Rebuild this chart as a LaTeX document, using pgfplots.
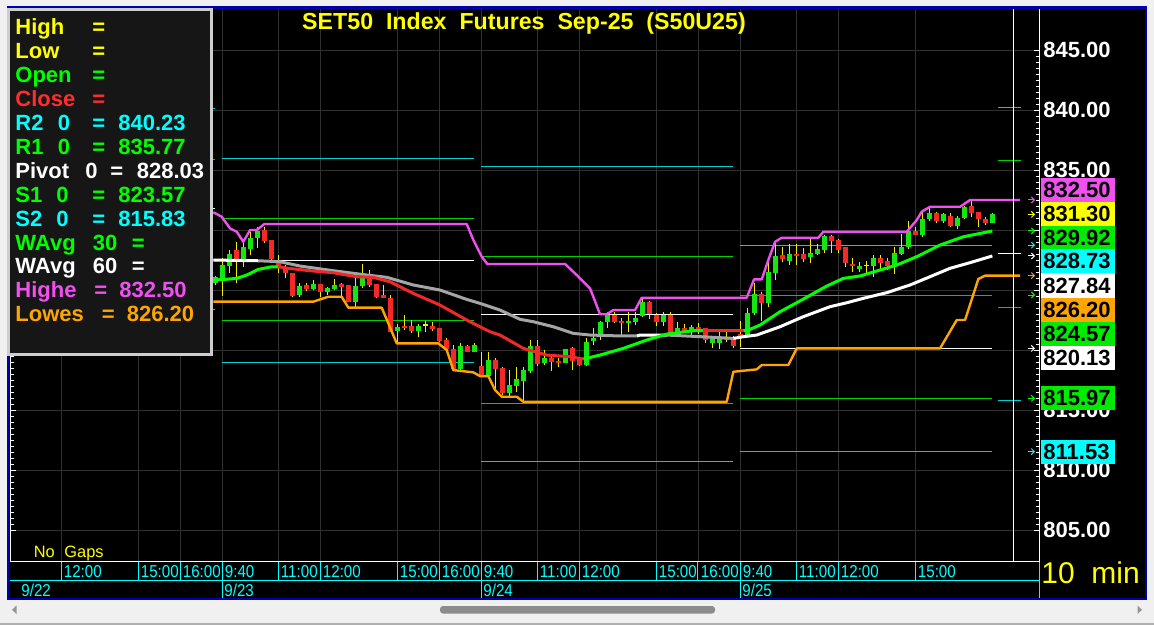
\documentclass[border=0pt]{standalone}
\usepackage{fontspec}
\setmainfont{Liberation Sans}
\newfontfamily\narrow[FakeStretch=0.88]{Liberation Sans}
\usepackage{pgfplots}
\pgfplotsset{compat=1.18}
\usepackage{pgfplotstable}
\usetikzlibrary{arrows.meta}

\definecolor{wgrey}{RGB}{240,240,240}
\definecolor{wblue}{RGB}{0,0,170}
\definecolor{gridc}{RGB}{48,48,48}
\definecolor{tcyan}{RGB}{0,255,255}
\definecolor{pcyan}{RGB}{0,205,205}
\definecolor{pgreen}{RGB}{0,210,0}
\definecolor{cgreen}{RGB}{20,230,20}
\definecolor{cred}{RGB}{245,40,40}
\definecolor{wick}{RGB}{240,240,0}
\definecolor{lgreen}{RGB}{0,255,0}
\definecolor{bgreen}{RGB}{0,235,0}
\definecolor{lred}{RGB}{240,40,40}
\definecolor{lgrey}{RGB}{165,165,165}
\definecolor{hmag}{RGB}{240,80,240}
\definecolor{lorange}{RGB}{255,165,0}
\definecolor{tyellow}{RGB}{255,255,0}
\definecolor{tred}{RGB}{255,45,45}
\definecolor{legbg}{RGB}{22,22,22}
\definecolor{legframe}{RGB}{205,205,205}
\definecolor{thumb}{RGB}{140,140,140}
\definecolor{sarrow}{RGB}{150,150,150}
\definecolor{sbottom}{RGB}{175,175,175}

% 10-minute bars, i = bar number (0 = 9:40 on 9/23)
\pgfplotstableread{
i o h l c
-1 825.56 826.20 825.40 826.06
0 825.89 827.64 824.50 827.08
1 827.03 828.33 826.39 828.00
3 827.50 829.03 826.94 828.58
4 828.42 829.86 827.92 829.31
5 829.31 830.28 828.47 829.92
11 824.58 825.56 824.39 825.33
13 825.08 825.83 825.00 825.50
15 824.86 825.28 824.58 825.17
16 825.08 825.92 825.00 825.42
19 824.03 826.19 823.61 825.33
20 825.33 827.17 825.14 826.11
25 821.58 822.20 820.56 821.94
28 821.60 822.17 821.10 822.03
34 818.42 820.56 818.33 820.36
36 819.86 820.56 819.80 820.42
38 817.86 819.86 817.78 819.17
41 816.39 818.33 816.11 817.08
42 817.00 818.60 816.53 817.58
43 817.44 818.56 815.70 818.33
44 818.28 820.83 818.11 820.33
46 818.94 820.00 818.75 819.33
49 818.94 820.08 818.89 820.08
52 818.75 820.97 818.67 820.69
53 820.75 821.80 820.42 821.03
54 821.06 822.44 820.83 822.36
55 822.36 823.20 821.80 822.92
58 822.28 823.20 821.53 822.44
59 822.33 823.20 822.08 822.67
60 822.83 824.44 822.72 824.03
63 822.36 823.20 822.00 822.92
65 821.44 822.36 821.33 821.80
67 821.53 822.08 821.17 821.89
70 820.55 821.17 820.14 820.97
71 820.55 821.50 820.10 821.05
75 821.25 823.47 821.10 823.06
76 823.06 825.56 822.92 824.64
78 823.94 827.60 823.56 826.47
79 826.44 829.03 825.83 827.83
81 827.44 828.83 827.10 828.00
84 827.72 829.22 827.28 828.11
85 828.00 828.83 827.92 828.39
86 828.33 829.58 828.11 829.50
91 826.78 827.36 826.53 827.00
93 827.00 827.92 826.11 827.64
96 827.08 828.60 826.30 828.06
97 828.00 829.67 827.92 828.61
98 828.61 830.78 828.42 829.92
100 829.58 831.53 829.44 830.89
101 830.89 831.80 830.78 831.44
103 830.78 831.44 830.56 831.33
105 830.33 831.17 830.11 831.03
106 831.03 832.00 830.89 831.94
110 830.61 831.44 830.56 831.30
}\greenc

\pgfplotstableread{
i o h l c
2 828.33 828.99 825.56 827.50
6 830.00 830.28 828.89 829.08
7 829.17 829.17 827.22 827.58
8 827.22 827.92 826.39 826.89
9 826.89 827.08 825.97 826.39
10 826.39 826.39 824.39 824.50
12 825.42 825.56 824.94 825.08
14 825.50 825.50 824.44 824.86
17 825.50 825.56 824.44 825.28
18 825.42 825.42 824.03 824.03
21 826.11 826.67 825.22 825.42
22 825.50 825.50 824.30 824.44
23 824.58 825.42 824.30 824.36
24 824.30 824.58 821.53 821.53
26 822.03 822.92 821.67 821.86
27 822.03 822.50 821.40 821.60
30 822.03 822.36 821.60 821.75
31 821.86 821.86 820.69 820.75
32 820.83 820.97 820.00 820.06
33 820.08 820.42 818.33 818.42
35 820.36 820.42 819.80 819.86
37 818.67 819.86 817.78 817.92
39 819.17 819.31 816.70 818.42
40 818.53 818.61 816.25 816.39
45 820.33 820.83 818.67 818.83
47 819.33 819.44 818.25 819.03
48 819.11 819.30 818.60 818.94
50 820.14 820.22 818.33 819.11
51 819.22 819.28 818.67 818.75
56 822.92 823.20 822.22 822.36
57 822.44 822.64 821.25 822.28
61 824.03 824.10 822.56 823.00
62 822.92 823.06 822.00 822.36
64 822.92 823.20 821.39 821.44
66 821.80 822.14 821.53 821.61
68 821.89 822.28 821.33 821.75
69 821.80 821.80 820.55 820.83
72 821.06 821.50 820.70 820.83
73 820.97 821.17 820.14 820.33
74 821.33 822.44 820.28 821.06
77 824.64 824.86 822.44 823.89
80 827.92 828.60 827.36 827.58
82 828.00 828.83 827.10 827.83
83 828.00 828.47 827.36 827.58
87 829.50 829.58 828.11 829.08
88 829.17 829.28 828.11 828.33
89 828.61 828.61 826.94 827.28
90 827.17 827.64 826.53 827.03
94 827.64 827.92 826.72 827.28
95 827.44 827.64 826.67 827.03
99 829.94 830.28 829.58 829.61
102 831.44 831.53 830.56 830.78
104 831.17 831.39 830.28 830.36
107 832.00 832.44 831.06 831.44
108 831.50 831.50 830.28 830.89
109 830.92 831.06 830.42 830.61
}\redc

\pgfplotstableread{
i o h l c
29 822.08 822.45 821.53 822.08
92 827.05 827.44 826.39 827.05
}\dojic

\newcommand{\legtxt}[4]{\node[anchor=base west, inner sep=0pt, text=#1, font=\bfseries\fontsize{11}{13}\selectfont] at (#2,#3) {#4};}

\begin{document}
\begin{tikzpicture}
\useasboundingbox (0,0) rectangle (577pt,-312.5pt);
\begin{scope}[x=0.5pt,y=-0.5pt]
\fill[wgrey] (0,0) rectangle (1154,625);
\fill[wblue] (6.5,6.5) rectangle (1147,600);
\fill[black] (9,9) rectangle (1144.5,598);
\end{scope}

\begin{axis}[
    at={(5pt,-280.5pt)}, anchor=south west,
    scale only axis, width=515pt, height=276pt,
    xmin=-30.33, xmax=116.81, ymin=802.42, ymax=848.42,
    axis line style={draw=none},
    xtick={-23,-12,-6,0,8,14,25,31,37,45,51,62,68,74,82,88,99},
    xticklabels={12:00,15:00,16:00,9:40,11:00,12:00,15:00,16:00,9:40,11:00,12:00,15:00,16:00,9:40,11:00,12:00,15:00},
    x tick style={draw=none},
    xticklabel style={anchor=west, inner sep=0pt, xshift=1.1pt, yshift=-5.5pt,
        text=tcyan, font=\narrow\fontsize{8.6}{10}\selectfont},
    ytick={805,810,...,845},
    yticklabels={805.00,810.00,815.00,,,,835.00,840.00,845.00},
    minor y tick num=9,
    ytick pos=both, yticklabel pos=right,
    tick align=inside,
    y tick style={white, line width=0.5pt},
    major tick length=3pt, minor tick length=1.8pt,
    yticklabel style={anchor=west, inner sep=0pt, xshift=1.5pt, text=white,
        font=\bfseries\fontsize{11}{13}\selectfont},
    xmajorgrids, ymajorgrids,
    major grid style={gridc, line width=0.5pt},
    unbounded coords=jump,
]
% daily pivot levels (R2/S2 cyan, R1/S1 green, pivot white)
\addplot[pcyan, line width=0.5pt] coordinates {
    (-31,840.17) (-1,840.17) (-1,nan) (-31,823.42) (-1,823.42) (-1,nan)
    (0,836.00) (36,836.00) (36,nan) (0,818.98) (36,818.98) (36,nan)
    (37,835.33) (73,835.33) (73,nan) (37,810.75) (73,810.75) (73,nan)
    (74,828.73) (110,828.73) (110,nan) (74,811.53) (110,811.53) (110,nan)
    (110.8,840.23) (114.1,840.23) (114.1,nan) (110.8,815.83) (114.1,815.83)};
\addplot[pgreen, line width=0.5pt] coordinates {
    (-31,835.92) (-1,835.92) (-1,nan) (-31,827.58) (-1,827.58) (-1,nan)
    (0,830.98) (36,830.98) (36,nan) (0,822.48) (36,822.48) (36,nan)
    (37,827.81) (73,827.81) (73,nan) (37,815.56) (73,815.56) (73,nan)
    (74,824.57) (110,824.57) (110,nan) (74,815.97) (110,815.97) (110,nan)
    (110.8,835.77) (114.1,835.77) (114.1,nan) (110.8,823.57) (114.1,823.57)};
\addplot[white, line width=0.5pt] coordinates {
    (-31,831.83) (-1,831.83) (-1,nan) (0,827.48) (36,827.48) (36,nan)
    (37,823.00) (73,823.00) (73,nan) (74,820.13) (110,820.13) (110,nan)
    (110.8,828.03) (114.1,828.03)};

% candle wicks
\addplot[draw=none, mark=none, error bars/.cd, y dir=plus, y explicit, error mark=none,
    error bar style={draw=wick, line width=0.5pt}]
    table[x=i, y=l, y error plus expr=\thisrow{h}-\thisrow{l}] {\greenc};
\addplot[draw=none, mark=none, error bars/.cd, y dir=plus, y explicit, error mark=none,
    error bar style={draw=wick, line width=0.5pt}]
    table[x=i, y=l, y error plus expr=\thisrow{h}-\thisrow{l}] {\redc};
\addplot[draw=none, mark=none, error bars/.cd, y dir=plus, y explicit, error mark=none,
    error bar style={draw=wick, line width=0.5pt}]
    table[x=i, y=l, y error plus expr=\thisrow{h}-\thisrow{l}] {\dojic};
% candle bodies
\addplot[draw=none, mark=none, error bars/.cd, y dir=plus, y explicit, error mark=none,
    error bar style={draw=cgreen, line width=2.3pt}]
    table[x=i, y=o, y error plus expr=\thisrow{c}-\thisrow{o}] {\greenc};
\addplot[draw=none, mark=none, error bars/.cd, y dir=plus, y explicit, error mark=none,
    error bar style={draw=cred, line width=2.3pt}]
    table[x=i, y=c, y error plus expr=\thisrow{o}-\thisrow{c}] {\redc};
\addplot[only marks, mark=-, mark size=1.2pt, wick, mark options={line width=0.6pt}]
    table[x=i, y=o] {\dojic};

% WAvg 60 (white rising, grey falling)
\addplot[white, line width=1.5pt, line join=round] coordinates {(-1.29,827.50) (5.14,827.44)};
\addplot[lgrey, line width=1.5pt, line join=round] coordinates {
    (5.14,827.44) (8.24,827.36) (11.1,827.00) (15.86,826.61) (20.63,826.25) (23.49,826.06)
    (27.29,825.42) (31.1,825.00) (34.91,824.22) (36.81,823.89) (39.67,823.33) (42.53,822.56)
    (44.43,822.36) (47.29,821.94) (50.14,821.39) (52.53,821.25) (55.86,821.19) (59.2,821.17)};
\addplot[white, line width=1.5pt, line join=round] coordinates {(59.2,821.17) (59.67,821.25) (63.49,821.25)};
\addplot[lgrey, line width=1.5pt, line join=round] coordinates {(63.49,821.25) (70.14,821.06) (73.0,820.97)};
\addplot[white, line width=1.5pt, line join=round] coordinates {
    (73.0,820.97) (74.43,821.11) (76.34,821.25) (79.67,821.94) (83.0,822.78) (86.81,823.61)
    (89.2,823.94) (91.57,824.31) (94.91,824.78) (98.24,825.42) (101.1,826.11) (103.96,826.81)
    (106.81,827.28) (110.0,827.84)};

% WAvg 30 (green rising, red falling)
\addplot[lgreen, line width=1.5pt, line join=round] coordinates {
    (-1.29,825.83) (0.39,825.89) (2.06,825.97) (3.49,826.25) (5.14,826.72) (7.06,826.94) (8.0,826.94)};
\addplot[lred, line width=1.5pt, line join=round] coordinates {
    (8.0,826.94) (9.43,826.81) (12.53,826.61) (15.86,826.44) (19.2,826.11) (21.57,826.06)
    (23.96,825.69) (27.29,824.72) (31.1,823.75) (34.91,822.50) (36.81,821.94) (38.24,821.53)
    (39.67,821.25) (43.0,820.14) (46.34,819.58) (49.67,819.44) (51.57,819.25)};
\addplot[lgreen, line width=1.5pt, line join=round] coordinates {
    (51.57,819.25) (53.96,819.58) (57.29,820.14) (60.63,820.83) (63.49,821.33) (67.29,821.61) (68.67,821.61)};
\addplot[lred, line width=1.5pt, line join=round] coordinates {(68.67,821.61) (74.43,821.61)};
\addplot[lgreen, line width=1.5pt, line join=round] coordinates {
    (74.43,821.61) (75.14,821.67) (76.81,822.08) (79.67,823.19) (82.77,824.17) (86.34,825.33)
    (88.71,825.97) (91.1,826.17) (93.96,826.67) (96.34,827.08) (99.2,827.78) (102.53,828.75)
    (105.86,829.44) (110.0,829.92)};

% highest high
\addplot[hmag, line width=1.2pt, line join=round] coordinates {
    (-1.29,831.48) (-0.09,831.11) (1.10,830.14) (2.06,829.86) (3.0,829.02) (3.96,830.00)
    (4.91,830.00) (6.0,830.50) (34.91,830.50) (35.86,829.17) (37.06,827.78) (37.86,827.17)
    (48.96,827.17) (50.63,826.25) (52.53,825.14) (53.96,822.98) (54.91,822.98) (55.86,823.33)
    (58.96,823.33) (59.91,824.36) (74.91,824.36) (75.96,825.89) (77.06,825.89) (78.0,827.50)
    (78.96,829.02) (79.91,829.36) (85.14,829.36) (85.86,829.86) (97.77,829.86) (99.2,830.83)
    (99.91,831.53) (101.1,831.94) (105.39,831.94) (106.81,832.50) (113.96,832.50)};
% lowest low
\addplot[lorange, line width=1.2pt, line join=round] coordinates {
    (-1.29,824.03) (13.0,824.03) (14.43,824.31) (15.14,824.44) (17.06,824.44) (18.0,823.53)
    (22.77,823.53) (23.71,822.23) (24.91,820.56) (30.86,820.56) (32.06,820.00) (33.0,818.33)
    (35.86,818.14) (36.81,817.83) (38.0,817.83) (38.96,816.67) (39.91,816.11) (42.06,816.11)
    (43.0,815.69) (72.06,815.69) (73.0,818.19) (76.34,818.39) (77.06,818.75) (80.86,818.75)
    (82.06,820.14) (102.53,820.14) (104.91,822.50) (106.1,822.50) (108.0,825.92) (108.96,826.20)
    (113.96,826.20)};
\end{axis}

\begin{scope}[x=0.5pt,y=-0.5pt]
% axis frame and cursor
\draw[white, line width=0.5pt] (10.5,9) -- (10.5,561.5) -- (1039.5,561.5) -- (1039.5,9);
\draw[white, line width=0.5pt] (1013.5,9) -- (1013.5,561);
% last-value arrows
\foreach \y/\c in {200/hmag, 214.4/tyellow, 231/lgreen, 245.2/tcyan, 256/white, 275.6/lorange, 295/lgreen, 348.4/white, 398.4/lgreen, 451.6/tcyan}
  \draw[\c, line width=0.5pt, -{Straight Barb[length=1.5pt, width=3pt]}] (1028,\y) -- (1035,\y);
% last-value boxes
\foreach \ya/\yb/\c/\t in {178/202/hmag/832.50, 202/226/tyellow/831.30, 226/249.5/bgreen/829.92,
    249.5/273/tcyan/828.73, 273/298/white/827.84, 298/322/lorange/826.20, 322/345.5/bgreen/824.57,
    345.5/370/white/820.13, 386/410/bgreen/815.97, 440/464/tcyan/811.53}{
  \fill[\c] (1041,\ya) rectangle (1115,\yb);
  \node[anchor=west, inner sep=0pt, text=black, font=\bfseries\fontsize{11}{13}\selectfont]
    at (1043,{(\ya+\yb)/2}) {\t};
}
% time axis rows
\draw[tcyan, line width=0.5pt] (10,580.5) -- (1039.5,580.5);
\draw[tcyan, line width=0.5pt] (1039.5,562) -- (1039.5,598);
\foreach \x in {61.2,138.5,180.3,222.3,278.2,320.3,397.6,439.7,481.4,537.3,579.4,656.1,697.9,740.3,796.3,838.4,915.6}
  \draw[tcyan, line width=0.5pt] (\x,562) -- (\x,580.5);
\foreach \x in {222.3,481.4,740.3}
  \draw[tcyan, line width=0.5pt] (\x,580.5) -- (\x,598);
\node[anchor=west, inner sep=0pt, text=tcyan, font=\narrow\fontsize{8.6}{10}\selectfont] at (21,590) {9/22};
\node[anchor=west, inner sep=0pt, text=tcyan, font=\narrow\fontsize{8.6}{10}\selectfont] at (224,590) {9/23};
\node[anchor=west, inner sep=0pt, text=tcyan, font=\narrow\fontsize{8.6}{10}\selectfont] at (483,590) {9/24};
\node[anchor=west, inner sep=0pt, text=tcyan, font=\narrow\fontsize{8.6}{10}\selectfont] at (742,590) {9/25};
\node[anchor=base west, inner sep=0pt, text=tyellow, font=\fontsize{8.2}{10}\selectfont] at (33.5,557) {No};
\node[anchor=base west, inner sep=0pt, text=tyellow, font=\fontsize{8.2}{10}\selectfont] at (64,557) {Gaps};
\node[anchor=base west, inner sep=0pt, text=tyellow, font=\fontsize{15}{18}\selectfont] at (1041,583) {10};
\node[anchor=base west, inner sep=0pt, text=tyellow, font=\fontsize{15}{18}\selectfont] at (1091,583) {min};
% title
\node[anchor=base, inner sep=0pt, text=tyellow, font=\bfseries\fontsize{11.6}{14}\selectfont]
  at (524,30) {SET50~~Index~~Futures~~Sep-25~~(S50U25)};
% data window
\fill[legframe] (7,8) rectangle (213,356);
\fill[legbg] (10,11) rectangle (210,353);
\legtxt{tyellow}{15}{35}{High}      \legtxt{tyellow}{92}{35}{=}
\legtxt{tyellow}{15}{58.9}{Low}     \legtxt{tyellow}{92}{58.9}{=}
\legtxt{lgreen}{15}{82.8}{Open}     \legtxt{lgreen}{92}{82.8}{=}
\legtxt{tred}{15}{106.7}{Close}     \legtxt{tred}{92}{106.7}{=}
\legtxt{tcyan}{15}{130.6}{R2}  \legtxt{tcyan}{57.5}{130.6}{0}  \legtxt{tcyan}{92}{130.6}{=}  \legtxt{tcyan}{118}{130.6}{840.23}
\legtxt{lgreen}{15}{154.5}{R1} \legtxt{lgreen}{57.5}{154.5}{0} \legtxt{lgreen}{92}{154.5}{=} \legtxt{lgreen}{118}{154.5}{835.77}
\legtxt{white}{15}{178.4}{Pivot} \legtxt{white}{85}{178.4}{0}  \legtxt{white}{110}{178.4}{=} \legtxt{white}{136.5}{178.4}{828.03}
\legtxt{lgreen}{15}{202.3}{S1} \legtxt{lgreen}{56}{202.3}{0}   \legtxt{lgreen}{92}{202.3}{=} \legtxt{lgreen}{118}{202.3}{823.57}
\legtxt{tcyan}{15}{226.2}{S2}  \legtxt{tcyan}{56}{226.2}{0}    \legtxt{tcyan}{92}{226.2}{=}  \legtxt{tcyan}{118}{226.2}{815.83}
\legtxt{lgreen}{15}{250.1}{WAvg} \legtxt{lgreen}{92.5}{250.1}{30} \legtxt{lgreen}{131.5}{250.1}{=}
\legtxt{white}{15}{274}{WAvg}  \legtxt{white}{92.5}{274}{60}   \legtxt{white}{131.5}{274}{=}
\legtxt{hmag}{15}{297.9}{Highe} \legtxt{hmag}{94}{297.9}{=}    \legtxt{hmag}{119}{297.9}{832.50}
\legtxt{lorange}{15}{321.8}{Lowes} \legtxt{lorange}{101.5}{321.8}{=} \legtxt{lorange}{126.5}{321.8}{826.20}
% scrollbar
\fill[thumb, rounded corners=1.5pt] (440,606) rectangle (715,613.5);
\fill[sarrow] (12,609.8) -- (16.5,605.5) -- (16.5,614) -- cycle;
\fill[sarrow] (1142,609.8) -- (1137.5,605.5) -- (1137.5,614) -- cycle;
\fill[sbottom] (0,622.5) rectangle (1154,625);
\end{scope}
\end{tikzpicture}
\end{document}
